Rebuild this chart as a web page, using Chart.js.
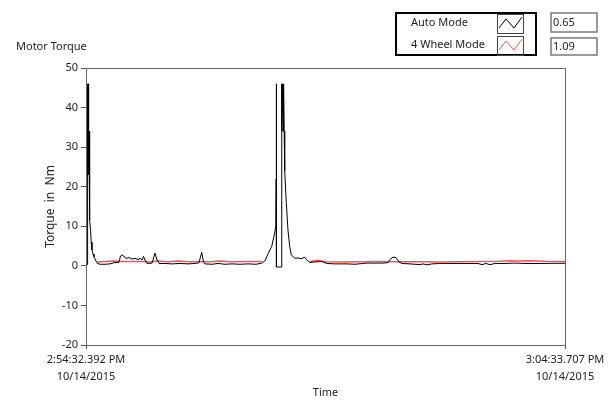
<!DOCTYPE html>
<html>
<head>
<meta charset="utf-8">
<script src="https://cdn.jsdelivr.net/npm/chart.js@4/dist/chart.umd.min.js"></script>
<style>
  body { margin: 0; background: #fff; }
  #wrap { position: relative; width: 608px; height: 400px; }
</style>
</head>
<body>
<div id="wrap"><canvas id="torqueChart"></canvas></div>
<script>
// seconds since 2:54:32.392 PM
const seriesNames = ["Auto Mode", "4 Wheel Mode"];
const latestValues = [0.65, 1.09];
const xTickLabels = [["2:54:32.392 PM", "10/14/2015"], ["3:04:33.707 PM", "10/14/2015"]];
const xTickValues = [0, 601.315];
const yTickRange = [-20, 50];

const autoTime = [1.26, 1.76, 2.26, 2.76, 3.26, 3.77, 4.14, 4.52, 5.02, 5.77, 6.53, 7.53, 8.79, 10.04, 12.55, 14.44,
  17.57, 23.85, 30.13, 35.15, 41.42, 43.31, 45.19, 47.70, 50.21, 53.98, 57.74, 61.50, 65.27, 67.79, 70.30, 72.18,
  74.69, 76.57, 82.85, 86.62, 89.13, 91.64, 99.17, 107.96, 118.0, 128.04, 136.83, 141.85, 145.24, 147.50, 149.38,
  158.17, 165.70, 174.49, 183.27, 193.32, 203.36, 213.40, 220.93, 224.70, 228.84, 233.11, 236.88, 238.26, 238.76,
  238.89, 239.01, 239.14, 239.26, 245.16, 245.41, 246.04, 246.67, 247.55, 248.05, 248.80, 249.43, 251.44, 253.57,
  255.71, 257.72, 261.99, 266.13, 269.90, 274.54, 277.05, 281.19, 287.46, 296.25, 302.53, 312.57, 327.63, 337.68,
  352.74, 371.57, 379.10, 381.61, 385.38, 389.14, 392.91, 396.67, 406.72, 419.27, 423.04, 428.06, 434.33, 444.38,
  456.93, 475.76, 492.08, 497.10, 502.12, 507.14, 513.42, 525.97, 538.52, 551.08, 569.91, 588.74, 601.3];
const autoTorque = [0.3, 46, 23, 46, 23, 34, 20, 34, 11.5, 9, 6, 4, 3, 2.3, 1.2, 0.6,
  0.4, 0.4, 0.5, 0.8, 0.9, 2.5, 2.8, 2.4, 1.9, 2.1, 1.7, 1.9, 1.6, 1.9, 1.5, 2.4,
  1.2, 0.6, 0.7, 3.2, 1.5, 0.6, 0.6, 0.5, 0.6, 0.5, 0.6, 0.8, 3.4, 1.0, 0.5,
  0.4, 0.6, 0.4, 0.5, 0.4, 0.5, 0.4, 0.7, 1.3, 3.2, 4.9, 8.3, 10, 22,
  46, 22, 46, -0.3, -0.3, 46, 34, 46, 34, 46, 34, 24, 16, 9,
  4.9, 2.8, 1.9, 2.0, 1.8, 2.2, 1.5, 0.85, 1.0, 1.1, 0.6, 0.5, 0.5, 0.4,
  0.7, 0.7, 0.8, 1.6, 2.2, 2.1, 1.0, 0.6, 0.5, 0.3, 0.5, 0.25, 0.5, 0.6,
  0.6, 0.6, 0.6, 0.3, 0.6, 0.3, 0.6, 0.6, 0.7, 0.6, 0.6, 0.65, 0.65];

const wheelTime = [13.81, 23.85, 36.40, 42.68, 61.50, 74.06, 80.34, 90.38, 102.93, 115.49, 130.55, 143.10, 155.66,
  168.21, 180.76, 199.59, 220.93, 250, 281.19, 291.23, 300.02, 318.85, 343.96, 369.06, 394.17, 419.27, 444.38,
  469.49, 494.59, 519.70, 532.25, 544.80, 557.36, 576.19, 601.3];
const wheelTorque = [1.0, 1.1, 1.2, 1.1, 1.1, 1.1, 1.0, 1.2, 1.05, 1.2, 1.05, 1.1, 1.05,
  1.2, 1.05, 1.1, 1.1, null, 1.1, 1.4, 1.05, 1.0, 1.05, 1.1, 1.05, 1.05, 1.0,
  1.05, 1.1, 1.15, 1.3, 1.2, 1.3, 1.15, 1.09];

const toPoints = (xs, ys) => xs.map((x, i) => ({ x: x, y: ys[i] }));
const FONT = "'Noto Sans', sans-serif";

const panelPlugin = {
  id: "panel",
  afterDraw(chart) {
    const ctx = chart.ctx;
    const a = chart.chartArea;
    ctx.save();
    // plot frame
    ctx.strokeStyle = "#666";
    ctx.lineWidth = 1;
    ctx.strokeRect(a.left + 0.5, a.top + 0.5, a.right - a.left, a.bottom - a.top);

    ctx.fillStyle = "#222";
    ctx.font = "11px " + FONT;
    ctx.textBaseline = "middle";
    ctx.textAlign = "left";
    ctx.fillText("Motor Torque", 16, 47);

    // legend box
    ctx.strokeStyle = "#000";
    ctx.lineWidth = 2;
    ctx.strokeRect(396, 13, 140, 42);
    const rows = [14, 36];
    chart.data.datasets.forEach((ds, i) => {
      const top = rows[i];
      ctx.fillStyle = "#222";
      ctx.fillText(ds.label, 411, top + 9);
      ctx.lineWidth = 1;
      ctx.strokeStyle = "#444";
      ctx.strokeRect(497.5, top + 0.5, 26, 19);
      ctx.strokeStyle = ds.borderColor;
      ctx.beginPath();
      ctx.moveTo(499, top + 14);
      ctx.lineTo(506, top + 5);
      ctx.lineTo(514, top + 14);
      ctx.lineTo(522, top + 3);
      ctx.stroke();

      // current value boxes
      ctx.strokeStyle = "#7a7a7a";
      ctx.lineWidth = 1.5;
      ctx.strokeRect(551, i === 0 ? 13 : 38, 46, i === 0 ? 19 : 17);
      ctx.fillStyle = "#222";
      ctx.fillText(latestValues[i].toFixed(2), 553, i === 0 ? 23 : 46.5);
    });
    ctx.restore();
  }
};

new Chart(document.getElementById("torqueChart"), {
  type: "line",
  data: {
    datasets: [
      {
        label: seriesNames[0],
        data: toPoints(autoTime, autoTorque),
        borderColor: "#000000",
        borderWidth: 1,
        pointRadius: 0,
        tension: 0,
      },
      {
        label: seriesNames[1],
        data: toPoints(wheelTime, wheelTorque),
        borderColor: "#ff5252",
        borderWidth: 1.5,
        pointRadius: 0,
        tension: 0,
        spanGaps: false,
      },
    ],
  },
  options: {
    responsive: true,
    maintainAspectRatio: false,
    animation: false,
    layout: { padding: { left: 40, top: 68, right: 43, bottom: 0 } },
    plugins: {
      legend: { display: false },
      tooltip: { enabled: false },
    },
    scales: {
      x: {
        type: "linear",
        min: xTickValues[0],
        max: xTickValues[1],
        afterBuildTicks: (scale) => {
          scale.ticks = xTickValues.map((v) => ({ value: v }));
        },
        afterFit: (scale) => { scale.height = 55; },
        grid: { drawOnChartArea: false, tickLength: 4, color: "#555" },
        border: { color: "#666" },
        ticks: {
          maxRotation: 0,
          autoSkip: false,
          padding: 3,
          color: "#222",
          font: { family: FONT, size: 11, lineHeight: 1.5 },
          callback: (value) => xTickLabels[xTickValues.indexOf(value)],
        },
        title: {
          display: true,
          text: "Time",
          color: "#222",
          padding: { top: 0, bottom: 1 },
          font: { family: FONT, size: 11 },
        },
      },
      y: {
        min: yTickRange[0],
        max: yTickRange[1],
        afterFit: (scale) => { scale.width = 46; },
        grid: { drawOnChartArea: false, tickLength: 5, color: "#555" },
        border: { color: "#666" },
        ticks: {
          stepSize: 10,
          padding: 3,
          color: "#222",
          font: { family: FONT, size: 11 },
        },
        title: {
          display: true,
          text: "Torque  in  Nm",
          color: "#222",
          padding: { top: 3, bottom: 0 },
          font: { family: FONT, size: 12 },
        },
      },
    },
  },
  plugins: [panelPlugin],
});
</script>
</body>
</html>
